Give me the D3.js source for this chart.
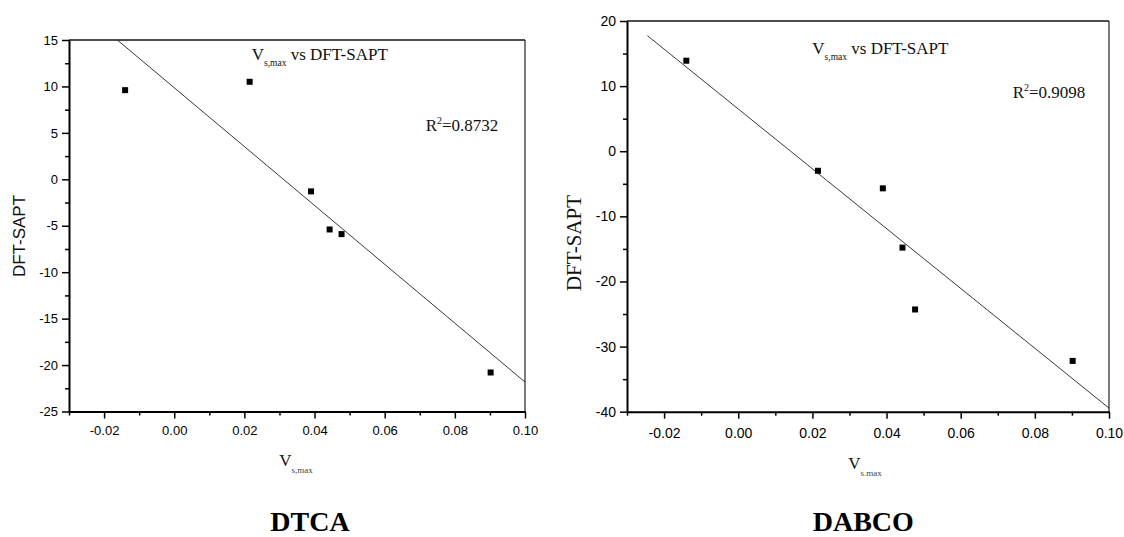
<!DOCTYPE html>
<html lang="en">
<head>
<meta charset="utf-8">
<title>Vs,max vs DFT-SAPT</title>
<script src="https://cdnjs.cloudflare.com/ajax/libs/d3/7.8.5/d3.min.js"></script>
<style>
  html, body { margin: 0; padding: 0; background: #fff; }
  svg { display: block; }
  .sans { font-family: "Liberation Sans", Arial, sans-serif; }
  .serif { font-family: "Liberation Serif", "Times New Roman", serif; }
</style>
</head>
<body>
<svg id="chart" width="1124" height="537"></svg>
<script>
// shared x values (Vs,max) for both complexes
var vsMax = [-0.014, 0.0215, 0.039, 0.0443, 0.0477, 0.0902];
// DFT-SAPT energies
var dtcaSapt = [9.6, 10.5, -1.3, -5.4, -5.9, -20.8];
var dabcoSapt = [13.9, -3.0, -5.7, -14.8, -24.3, -32.2];

var xTicks = [-0.02, 0.00, 0.02, 0.04, 0.06, 0.08, 0.10];
var xMinor = [-0.03, -0.01, 0.01, 0.03, 0.05, 0.07, 0.09];
var dtcaYTicks = [-25, -20, -15, -10, -5, 0, 5, 10, 15];
var dtcaYMinor = [-22.5, -17.5, -12.5, -7.5, -2.5, 2.5, 7.5, 12.5];
var dabcoYTicks = [-40, -30, -20, -10, 0, 10, 20];
var dabcoYMinor = [-35, -25, -15, -5, 5, 15];

var panelNames = ["DTCA", "DABCO"];
var r2Text = ["0.8732", "0.9098"];
var fitRange = [-0.0245, 0.10];

var svg = d3.select("#chart");

// plain least squares fit
function linfit(xs, ys) {
    var mx = d3.mean(xs), my = d3.mean(ys);
    var sxy = 0, sxx = 0;
    xs.forEach(function(x, i) {
        sxy += (x - mx) * (ys[i] - my);
        sxx += (x - mx) * (x - mx);
    });
    var b = sxy / sxx;
    return { slope: b, icpt: my - b * mx };
}

var panels = [
    {
        id: "p0", ys: dtcaSapt, yDom: [-25, 15], yTicks: dtcaYTicks, yMinor: dtcaYMinor,
        left: 69, right: 525, top: 40, bottom: 411.5, tickFont: 13, xPad: 7,
        yLabel: { x: 25, y: 236, cls: "sans", size: 17 },
        title: { x: 251.7, y: 60 }, r2: { x: 425.7, y: 131 },
        xTitle: { x: 279.3, y: 466, sub: "s,max" },
        name: { x: 310, y: 531 }
    },
    {
        id: "p1", ys: dabcoSapt, yDom: [-40, 20], yTicks: dabcoYTicks, yMinor: dabcoYMinor,
        left: 627, right: 1109, top: 21, bottom: 411.7, tickFont: 14, xPad: 9,
        yLabel: { x: 581, y: 243, cls: "serif", size: 21 },
        title: { x: 812.3, y: 54 }, r2: { x: 1012.7, y: 97.7 },
        xTitle: { x: 848.3, y: 469.3, sub: "s.max" },
        name: { x: 863.3, y: 531 }
    }
];

panels.forEach(function(p, k) {
    var x = d3.scaleLinear().domain([-0.03, 0.10]).range([p.left, p.right]);
    var y = d3.scaleLinear().domain(p.yDom).range([p.bottom, p.top]);
    var g = svg.append("g");

    svg.append("clipPath").attr("id", "clip-" + p.id)
        .append("rect")
        .attr("x", p.left).attr("y", p.top)
        .attr("width", p.right - p.left).attr("height", p.bottom - p.top);

    // frame: top and right edges
    g.append("line").attr("x1", p.left).attr("x2", p.right)
        .attr("y1", p.top).attr("y2", p.top)
        .attr("stroke", "#111").attr("stroke-width", 1.6);
    g.append("line").attr("x1", p.right).attr("x2", p.right)
        .attr("y1", p.top).attr("y2", p.bottom)
        .attr("stroke", "#222").attr("stroke-width", 1.2);

    // minor ticks first, then main axes over them
    g.append("g").attr("transform", "translate(0," + p.bottom + ")")
        .call(d3.axisBottom(x).tickValues(xMinor).tickSize(4).tickSizeOuter(0).tickFormat(""))
        .call(function(a) { a.select(".domain").remove(); });
    g.append("g").attr("transform", "translate(" + p.left + ",0)")
        .call(d3.axisLeft(y).tickValues(p.yMinor).tickSize(4).tickSizeOuter(0).tickFormat(""))
        .call(function(a) { a.select(".domain").remove(); });

    var xAxis = g.append("g").attr("class", "sans")
        .attr("transform", "translate(0," + p.bottom + ")")
        .call(d3.axisBottom(x).tickValues(xTicks).tickSize(7).tickSizeOuter(0)
            .tickPadding(p.xPad).tickFormat(function(d) { return d.toFixed(2); }));
    var yAxis = g.append("g").attr("class", "sans")
        .attr("transform", "translate(" + p.left + ",0)")
        .call(d3.axisLeft(y).tickValues(p.yTicks).tickSize(7).tickSizeOuter(0)
            .tickPadding(4).tickFormat(function(d) { return String(d); }));

    [xAxis, yAxis].forEach(function(a) {
        a.attr("font-family", null).attr("font-size", p.tickFont);
        a.select(".domain").attr("stroke", "#000").attr("stroke-width", 2);
        a.selectAll(".tick text").attr("fill", "#000");
    });
    g.selectAll(".tick line").attr("stroke", "#000").attr("stroke-width", 1.5);

    // fitted line
    var fit = linfit(vsMax, p.ys);
    g.append("line")
        .attr("clip-path", "url(#clip-" + p.id + ")")
        .attr("x1", x(fitRange[0])).attr("y1", y(fit.icpt + fit.slope * fitRange[0]))
        .attr("x2", x(fitRange[1])).attr("y2", y(fit.icpt + fit.slope * fitRange[1]))
        .attr("stroke", "#222").attr("stroke-width", 0.9);

    // square markers
    g.selectAll("rect.pt")
        .data(vsMax.map(function(v, i) { return [v, p.ys[i]]; }))
        .enter().append("rect").attr("class", "pt")
        .attr("x", function(d) { return x(d[0]) - 3; })
        .attr("y", function(d) { return y(d[1]) - 3; })
        .attr("width", 6).attr("height", 6)
        .attr("fill", "#000");

    // y axis title
    g.append("text").attr("class", p.yLabel.cls)
        .attr("transform", "translate(" + p.yLabel.x + "," + p.yLabel.y + ") rotate(-90)")
        .attr("text-anchor", "middle").attr("font-size", p.yLabel.size)
        .attr("fill", "#111").text("DFT-SAPT");

    // inner title: Vs,max vs DFT-SAPT
    var t = g.append("text").attr("class", "serif").attr("fill", "#111")
        .attr("x", p.title.x).attr("y", p.title.y).attr("font-size", 17);
    t.append("tspan").text("V");
    t.append("tspan").attr("font-size", 9.5).attr("dy", 6).text("s,max");
    t.append("tspan").attr("dy", -6).text(" vs DFT-SAPT");

    // R squared
    var r = g.append("text").attr("class", "serif").attr("fill", "#111")
        .attr("x", p.r2.x).attr("y", p.r2.y).attr("font-size", 17);
    r.append("tspan").text("R");
    r.append("tspan").attr("font-size", 10).attr("dy", -7).text("2");
    r.append("tspan").attr("dy", 7).text("=" + r2Text[k]);

    // x axis title
    var xt = g.append("text").attr("class", "serif").attr("fill", "#111")
        .attr("x", p.xTitle.x).attr("y", p.xTitle.y).attr("font-size", 17);
    xt.append("tspan").text("V");
    xt.append("tspan").attr("font-size", 9).attr("dy", 7).attr("fill", "#444").text(p.xTitle.sub);

    // complex name under the plot
    g.append("text").attr("class", "serif")
        .attr("x", p.name.x).attr("y", p.name.y)
        .attr("text-anchor", "middle").attr("font-size", 28).attr("font-weight", "bold")
        .attr("fill", "#000").text(panelNames[k]);
});
</script>
</body>
</html>
